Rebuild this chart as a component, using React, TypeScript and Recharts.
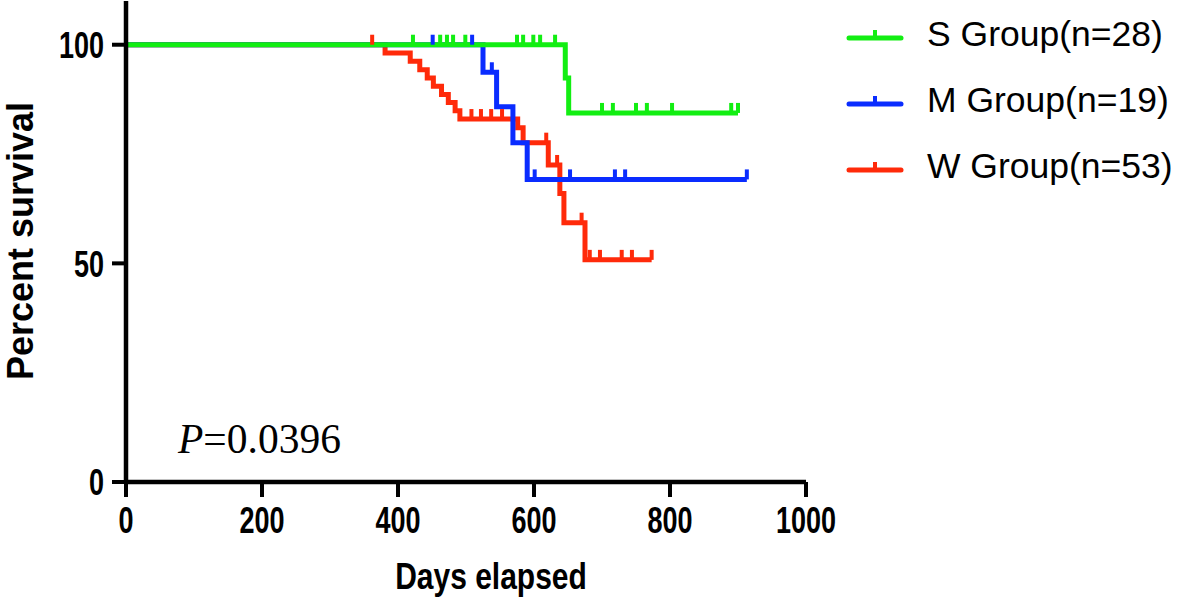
import React from 'react';
import { LineChart, Line, XAxis, YAxis, Legend } from 'recharts';

// S group (green)
const sStepDays = [0, 646, 651];
const sStepPct = [100, 92.4, 84.4];
const sCensorDays = [422, 462, 472, 481, 499, 575, 584, 599, 609, 631, 700, 716, 750, 766, 803, 890, 900];

// M group (blue)
const mStepDays = [0, 525, 545, 569, 590];
const mStepPct = [100, 93.7, 85.8, 77.6, 69.2];
const mCensorDays = [451, 509, 538, 601, 653, 719, 734, 913];

// W group (red)
const wStepDays = [0, 381, 418, 432, 443, 452, 464, 474, 484, 491, 576, 584, 621, 638, 644, 675];
const wStepPct = [100, 98.1, 96.2, 94.3, 92.4, 90.5, 88.6, 86.8, 84.9, 83.0, 81.0, 77.6, 72.5, 66.0, 59.3, 50.8];
const wCensorDays = [362, 508, 522, 537, 553, 618, 634, 670, 682, 697, 729, 744, 773];

const xTicks = [0, 200, 400, 600, 800, 1000];
const yTicks = [0, 50, 100];

const legendOrder = ['S Group(n=28)', 'M Group(n=19)', 'W Group(n=53)'];

type Pt = { day: number; pct: number; censor: boolean };

function buildCurve(stepDays: number[], stepPct: number[], censorDays: number[]): Pt[] {
  const pts: Pt[] = stepDays.map((d, i) => ({ day: d, pct: stepPct[i], censor: false }));
  censorDays.forEach(d => {
    let v = stepPct[0];
    stepDays.forEach((sd, i) => { if (sd <= d) v = stepPct[i]; });
    pts.push({ day: d, pct: v, censor: true });
  });
  return pts.sort((a, b) => a.day - b.day);
}

const sData = buildCurve(sStepDays, sStepPct, sCensorDays);
const mData = buildCurve(mStepDays, mStepPct, mCensorDays);
const wData = buildCurve(wStepDays, wStepPct, wCensorDays);

const GREEN = '#12ee12';
const BLUE = '#0a2cff';
const RED = '#ff2a0a';
const FONT = '"Liberation Sans", Arial, sans-serif';

const censorDot = (color: string) => (props: any) => {
  const { cx, cy, payload, index } = props;
  if (!payload || !payload.censor) return <g key={'d' + index} />;
  return <rect key={'d' + index} x={cx - 2} y={cy - 10} width={4} height={10} fill={color} />;
};

const XTick = (props: any) => {
  const { x, payload } = props;
  return (
    <g transform={`translate(${x},533) scale(1,1.35)`}>
      <text x={0} y={0} textAnchor="middle" fontFamily={FONT} fontWeight="bold" fontSize={27} fill="#000">
        {payload.value}
      </text>
    </g>
  );
};

const YTick = (props: any) => {
  const { y, payload } = props;
  return (
    <g transform={`translate(104,${y}) scale(1,1.35)`}>
      <text x={0} y={0} dy="0.36em" textAnchor="end" fontFamily={FONT} fontWeight="bold" fontSize={27} fill="#000">
        {payload.value}
      </text>
    </g>
  );
};

const renderLegend = (props: any) => {
  const items = [...(props.payload || [])].sort(
    (a: any, b: any) => legendOrder.indexOf(a.value) - legendOrder.indexOf(b.value)
  );
  return (
    <div>
      {items.map((it: any) => (
        <div key={it.value} style={{ display: 'flex', alignItems: 'center', height: 66 }}>
          <svg width={58} height={20} style={{ marginRight: 23, flexShrink: 0 }}>
            <line x1={3} y1={14} x2={55} y2={14} stroke={it.color} strokeWidth={5} strokeLinecap="round" />
            <rect x={27} y={6} width={4} height={8} fill={it.color} />
          </svg>
          <span style={{ fontFamily: FONT, fontSize: 35.5, color: '#000', whiteSpace: 'nowrap' }}>{it.value}</span>
        </div>
      ))}
    </div>
  );
};

export default function App() {
  return (
    <div style={{ position: 'absolute', left: 0, top: 0, width: 1181, height: 604, background: '#fff' }}>
      <LineChart width={1181} height={604} margin={{ top: 1, right: 375, bottom: 0, left: 0 }}>
        <XAxis
          type="number"
          dataKey="day"
          domain={[0, 1000]}
          ticks={xTicks}
          allowDataOverflow
          height={122}
          tickSize={15}
          axisLine={{ stroke: '#000', strokeWidth: 4.5 }}
          tickLine={{ stroke: '#000', strokeWidth: 4 }}
          tick={<XTick />}
          label={{
            content: () => (
              <g transform={`translate(491,589) scale(1,1.25)`}>
                <text x={0} y={0} textAnchor="middle" fontFamily={FONT} fontWeight="bold" fontSize={30} fill="#000">
                  Days elapsed
                </text>
              </g>
            ),
          }}
        />
        <YAxis
          type="number"
          domain={[0, 110]}
          ticks={yTicks}
          width={126}
          tickSize={14}
          axisLine={{ stroke: '#000', strokeWidth: 4.5 }}
          tickLine={{ stroke: '#000', strokeWidth: 4 }}
          tick={<YTick />}
          label={{
            content: () => (
              <text
                x={33}
                y={241}
                transform="rotate(-90, 33, 241)"
                textAnchor="middle"
                fontFamily={FONT}
                fontWeight="bold"
                fontSize={36}
                fill="#000"
              >
                Percent survival
              </text>
            ),
          }}
        />
        <Legend
          layout="horizontal"
          verticalAlign="middle"
          align="center"
          content={renderLegend}
          wrapperStyle={{ position: 'absolute', left: 846, top: 1, width: 334 }}
        />
        <Line
          data={wData}
          dataKey="pct"
          name="W Group(n=53)"
          type="stepAfter"
          stroke={RED}
          strokeWidth={5}
          dot={censorDot(RED)}
          activeDot={false}
          isAnimationActive={false}
        />
        <Line
          data={mData}
          dataKey="pct"
          name="M Group(n=19)"
          type="stepAfter"
          stroke={BLUE}
          strokeWidth={5}
          dot={censorDot(BLUE)}
          activeDot={false}
          isAnimationActive={false}
        />
        <Line
          data={sData}
          dataKey="pct"
          name="S Group(n=28)"
          type="stepAfter"
          stroke={GREEN}
          strokeWidth={5}
          dot={censorDot(GREEN)}
          activeDot={false}
          isAnimationActive={false}
        />
      </LineChart>
      <div
        style={{
          position: 'absolute',
          left: 178,
          top: 419,
          fontFamily: '"Liberation Serif", "Times New Roman", serif',
          fontSize: 41.5,
          color: '#000',
          lineHeight: 1,
        }}
      >
        <i>P</i>=0.0396
      </div>
    </div>
  );
}
